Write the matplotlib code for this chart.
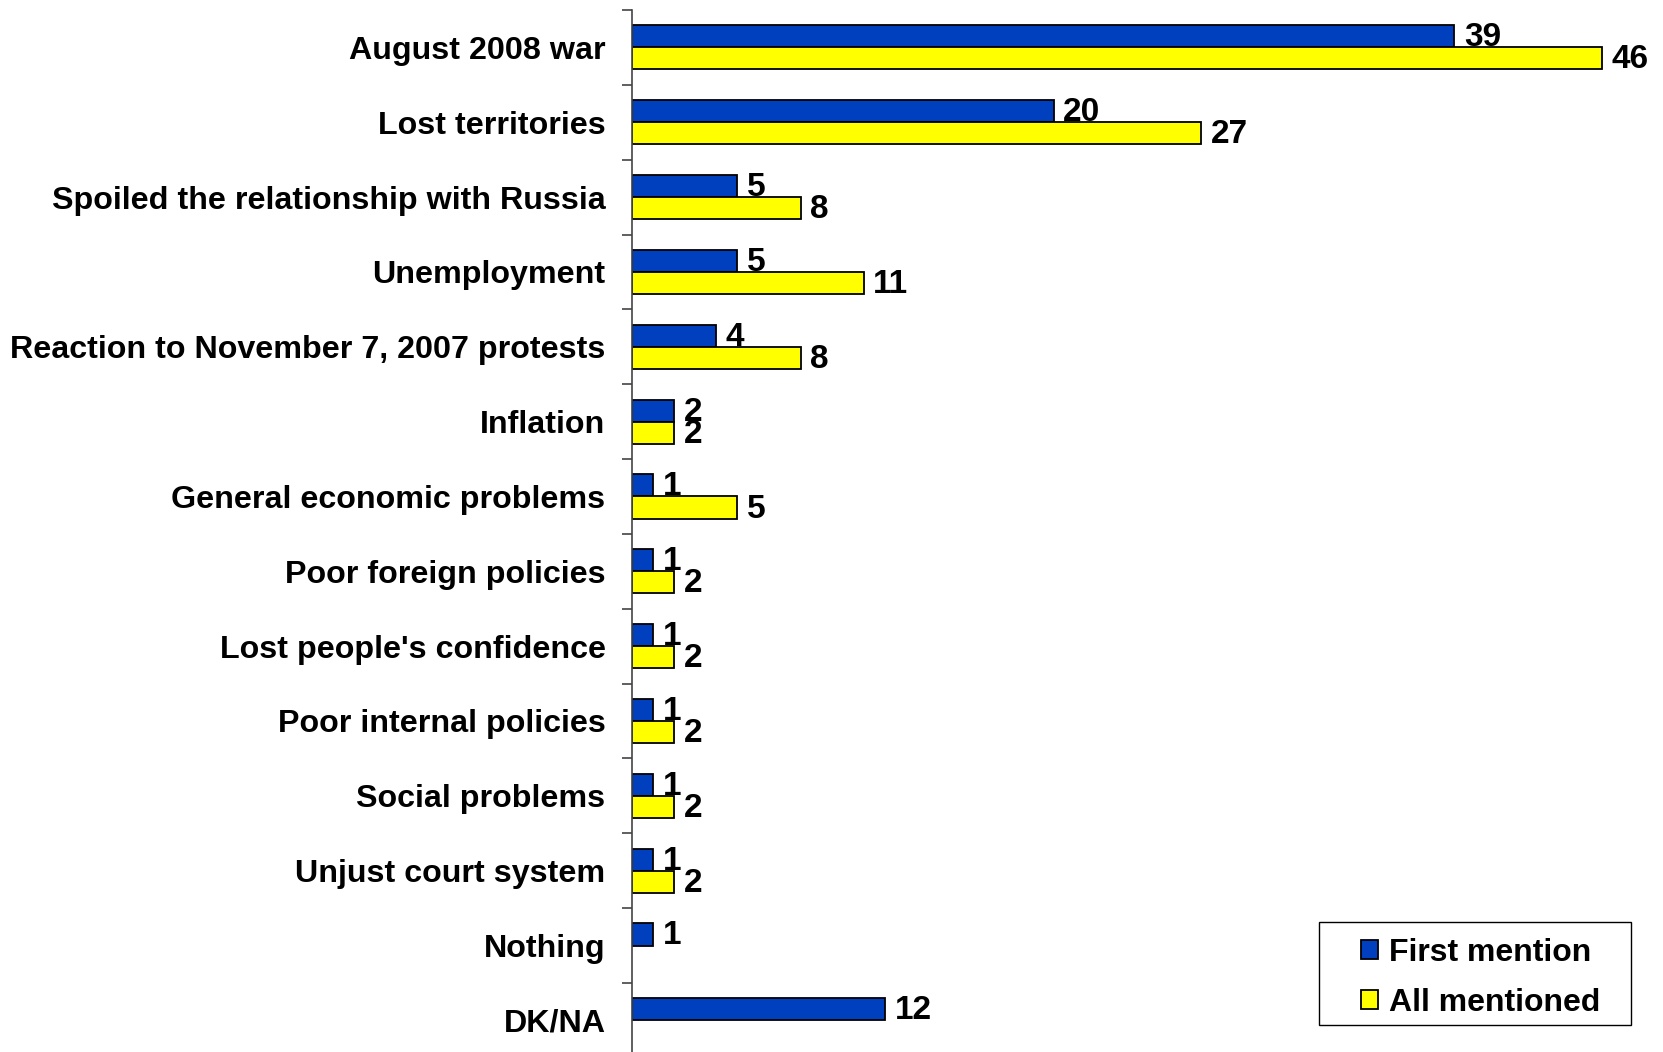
import numpy as np
import matplotlib
matplotlib.use("Agg")
import matplotlib.pyplot as plt
from matplotlib.patches import Patch, Rectangle

categories = [
    "August 2008 war",
    "Lost territories",
    "Spoiled the relationship with Russia",
    "Unemployment",
    "Reaction to November 7, 2007 protests",
    "Inflation",
    "General economic problems",
    "Poor foreign policies",
    "Lost people's confidence",
    "Poor internal policies",
    "Social problems",
    "Unjust court system",
    "Nothing",
    "DK/NA",
]
first_mention = [39, 20, 5, 5, 4, 2, 1, 1, 1, 1, 1, 1, 1, 12]
all_mentioned = [46, 27, 8, 11, 8, 2, 5, 2, 2, 2, 2, 2, None, None]

BLUE = "#0040BF"
YELLOW = "#FFFF00"
FONT = "Liberation Sans"

plt.rcParams["font.family"] = FONT
plt.rcParams["font.weight"] = "bold"

W, H = 1663, 1052
fig = plt.figure(figsize=(W / 100, H / 100), dpi=100)
ax = fig.add_axes([0.380, -0.0055, 0.62, 0.996])

y = np.arange(len(categories))
h = 0.295

fm = np.array(first_mention, dtype=float)
am = np.array([np.nan if v is None else v for v in all_mentioned], dtype=float)

ax.barh(y - h / 2, fm, height=h, color=BLUE, edgecolor="black", linewidth=1.3,
        label="First mention")
mask = ~np.isnan(am)
ax.barh(y[mask] + h / 2, am[mask], height=h, color=YELLOW, edgecolor="black",
        linewidth=1.3, label="All mentioned")

# value labels
for yi, v in zip(y, fm):
    ax.text(v + 0.45, yi - h / 2 + 0.02, f"{v:g}", va="center", ha="left",
            fontsize=24, fontweight="bold")
for yi, v in zip(y[mask], am[mask]):
    ax.text(v + 0.45, yi + h / 2 + 0.02, f"{v:g}", va="center", ha="left",
            fontsize=24, fontweight="bold")

ax.set_xlim(0, 48.9)
ax.set_ylim(len(categories) - 0.5, -0.5)

ax.set_yticks(y)
ax.set_yticklabels(categories, fontsize=23.2, fontweight="bold")
ax.set_yticks(np.arange(-0.5, len(categories), 1), minor=True)
ax.tick_params(axis="y", which="major", length=0, pad=19)
ax.tick_params(axis="y", which="minor", length=7, width=1.2, color="#444444")
ax.set_xticks([])

for s in ["top", "right", "bottom"]:
    ax.spines[s].set_visible(False)
ax.spines["left"].set_color("#444444")
ax.spines["left"].set_linewidth(1.2)

# legend box drawn separately so the padding matches the original
fig.patches.append(Rectangle((1319 / W, 1 - 1025 / H), 312 / W, 103 / H,
                             transform=fig.transFigure, facecolor="white",
                             edgecolor="black", linewidth=1.0, zorder=5))
handles = [Patch(facecolor=BLUE, edgecolor="black", linewidth=1.3, label="First mention"),
           Patch(facecolor=YELLOW, edgecolor="black", linewidth=1.3, label="All mentioned")]
leg = fig.legend(handles=handles, loc="center left",
                 bbox_to_anchor=(1361 / W, 1 - 978 / H),
                 frameon=False,
                 prop={"family": FONT, "weight": "bold", "size": 23},
                 handlelength=0.53, handleheight=0.53, handletextpad=0.34,
                 borderpad=0, labelspacing=0.62, borderaxespad=0)
leg.set_zorder(6)

fig.savefig("out.png", dpi=100, facecolor="white")
